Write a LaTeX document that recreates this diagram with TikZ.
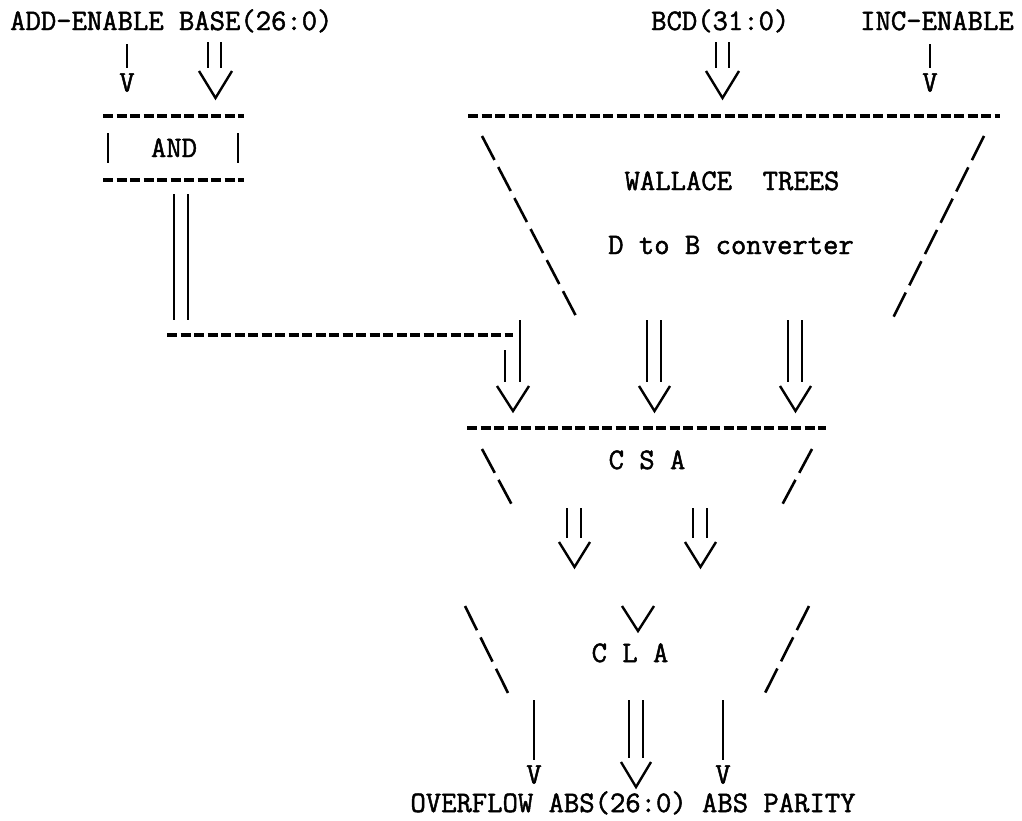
\documentclass[tikz,border=0pt]{standalone}
\usepackage{fontspec}
\newfontfamily\tw[FakeBold=1.6]{Latin Modern Mono}
\begin{document}
\begin{tikzpicture}[x=1pt,y=-1pt,
  txt/.style={font=\tw\fontsize{29.8}{34}\selectfont, inner sep=0pt, anchor=base},
  wire/.style={line width=2.4pt},
  vtip/.style={line width=2.4pt, line join=miter},
  dashh/.style={line width=3.2pt, dash pattern=on 10pt off 3.5pt},
  dashd/.style={line width=2.6pt, dash pattern=on 27pt off 8pt}]
\useasboundingbox (0,0) rectangle (1022,820);
% ---- texts
\node[txt, anchor=base west] (addbase) at (10,30) {ADD-ENABLE BASE(26:0)};
\node[txt, anchor=base west] (bcd) at (651,30) {BCD(31:0)};
\node[txt, anchor=base west] (inc) at (860,30) {INC-ENABLE};
\node[txt] (vadd) at (127,91.5) {V};
\node[txt] (vinc) at (930,91.5) {V};
\node[txt] (and) at (174,157) {AND};
\node[txt] (wal) at (732,190) {WALLACE\ \ TREES};
\node[txt] (dtob) at (731,254) {D to B converter};
\node[txt] (csa) at (647,469) {C S A};
\node[txt] (cla) at (630,662) {C L A};
\node[txt] (vovf) at (534,783.5) {V};
\node[txt] (vpar) at (723,783.5) {V};
\node[txt] (outs) at (633,812) {OVERFLOW ABS(26:0) ABS PARITY};
% ---- coordinates
\coordinate (ae1) at (127,44);  \coordinate (ae2) at (127,68);
\coordinate (ba1) at (208,42);  \coordinate (ba2) at (208,68);
\coordinate (bb1) at (221,42);  \coordinate (bb2) at (221,68);
\coordinate (bvL) at (199,71);  \coordinate (bvT) at (215.5,98); \coordinate (bvR) at (232,71);
\coordinate (ca1) at (716,42);  \coordinate (ca2) at (716,68);
\coordinate (cb1) at (729,42);  \coordinate (cb2) at (729,68);
\coordinate (cvL) at (706,71);  \coordinate (cvT) at (722.5,98); \coordinate (cvR) at (739,71);
\coordinate (ie1) at (930,44);  \coordinate (ie2) at (930,68);
\coordinate (andTL) at (103,116); \coordinate (andTR) at (244,116);
\coordinate (andBL) at (103,180); \coordinate (andBR) at (244,180);
\coordinate (andL1) at (108,133); \coordinate (andL2) at (108,163);
\coordinate (andR1) at (238,133); \coordinate (andR2) at (238,163);
\coordinate (wTL) at (468,116); \coordinate (wTR) at (1000,116);
\coordinate (wL1) at (482,136); \coordinate (wL2) at (577,318);
\coordinate (wR1) at (984,136); \coordinate (wR2) at (893,318);
\coordinate (ao1) at (174,194); \coordinate (ao2) at (174,320);
\coordinate (ap1) at (188,194); \coordinate (ap2) at (188,320);
\coordinate (hz1) at (167,335); \coordinate (hz2) at (513,335);
\coordinate (k1a) at (505,350); \coordinate (k1b) at (505,382);
\coordinate (k2a) at (520,320); \coordinate (k2b) at (520,382);
\coordinate (kvL) at (497,386); \coordinate (kvT) at (513,411); \coordinate (kvR) at (529,386);
\coordinate (m1a) at (647,320); \coordinate (m1b) at (647,382);
\coordinate (m2a) at (661,320); \coordinate (m2b) at (661,382);
\coordinate (mvL) at (639,386); \coordinate (mvT) at (654.5,411); \coordinate (mvR) at (670,386);
\coordinate (r1a) at (788,320); \coordinate (r1b) at (788,382);
\coordinate (r2a) at (802,320); \coordinate (r2b) at (802,382);
\coordinate (rvL) at (780,386); \coordinate (rvT) at (795.5,411); \coordinate (rvR) at (811,386);
\coordinate (sTL) at (467,428); \coordinate (sTR) at (826,428);
\coordinate (sL1) at (482,449); \coordinate (sL2) at (512,505);
\coordinate (sR1) at (812,449); \coordinate (sR2) at (782,505);
\coordinate (s1a) at (567,508); \coordinate (s1b) at (567,538);
\coordinate (s2a) at (581,508); \coordinate (s2b) at (581,538);
\coordinate (svL) at (559,542); \coordinate (svT) at (574.5,567); \coordinate (svR) at (590,542);
\coordinate (t1a) at (693,508); \coordinate (t1b) at (693,538);
\coordinate (t2a) at (707,508); \coordinate (t2b) at (707,538);
\coordinate (tvL) at (685,542); \coordinate (tvT) at (700.5,567); \coordinate (tvR) at (716,542);
\coordinate (lvL) at (622,606); \coordinate (lvT) at (638,631); \coordinate (lvR) at (654,606);
\coordinate (lL1) at (465,606); \coordinate (lL2) at (510,697);
\coordinate (lR1) at (809,606); \coordinate (lR2) at (763,697);
\coordinate (o1a) at (534,700); \coordinate (o1b) at (534,760);
\coordinate (o2a) at (629,700); \coordinate (o2b) at (629,758);
\coordinate (o3a) at (643,700); \coordinate (o3b) at (643,758);
\coordinate (ovL) at (621,762); \coordinate (ovT) at (636,787); \coordinate (ovR) at (651,762);
\coordinate (o4a) at (723,700); \coordinate (o4b) at (723,760);
% ---- top inputs
\draw[wire] (ae1) -- (ae2);
\draw[wire] (ba1) -- (ba2);  \draw[wire] (bb1) -- (bb2);
\draw[vtip] (bvL) -- (bvT) -- (bvR);
\draw[wire] (ca1) -- (ca2);  \draw[wire] (cb1) -- (cb2);
\draw[vtip] (cvL) -- (cvT) -- (cvR);
\draw[wire] (ie1) -- (ie2);
% ---- AND box
\draw[dashh] (andTL) -- (andTR);
\draw[dashh] (andBL) -- (andBR);
\draw[wire] (andL1) -- (andL2);
\draw[wire] (andR1) -- (andR2);
% ---- Wallace trees
\draw[dashh] (wTL) -- (wTR);
\draw[dashd] (wL1) -- (wL2);
\draw[dashd] (wR1) -- (wR2);
% ---- AND output to CSA
\draw[wire] (ao1) -- (ao2);  \draw[wire] (ap1) -- (ap2);
\draw[dashh] (hz1) -- (hz2);
\draw[wire] (k1a) -- (k1b);  \draw[wire] (k2a) -- (k2b);
\draw[vtip] (kvL) -- (kvT) -- (kvR);
\draw[wire] (m1a) -- (m1b);  \draw[wire] (m2a) -- (m2b);
\draw[vtip] (mvL) -- (mvT) -- (mvR);
\draw[wire] (r1a) -- (r1b);  \draw[wire] (r2a) -- (r2b);
\draw[vtip] (rvL) -- (rvT) -- (rvR);
% ---- CSA
\draw[dashh] (sTL) -- (sTR);
\draw[dashd] (sL1) -- (sL2);
\draw[dashd] (sR1) -- (sR2);
\draw[wire] (s1a) -- (s1b);  \draw[wire] (s2a) -- (s2b);
\draw[vtip] (svL) -- (svT) -- (svR);
\draw[wire] (t1a) -- (t1b);  \draw[wire] (t2a) -- (t2b);
\draw[vtip] (tvL) -- (tvT) -- (tvR);
% ---- CLA
\draw[vtip] (lvL) -- (lvT) -- (lvR);
\draw[dashd] (lL1) -- (lL2);
\draw[dashd] (lR1) -- (lR2);
\draw[wire] (o1a) -- (o1b);
\draw[wire] (o2a) -- (o2b);  \draw[wire] (o3a) -- (o3b);
\draw[vtip] (ovL) -- (ovT) -- (ovR);
\draw[wire] (o4a) -- (o4b);
\end{tikzpicture}
\end{document}
